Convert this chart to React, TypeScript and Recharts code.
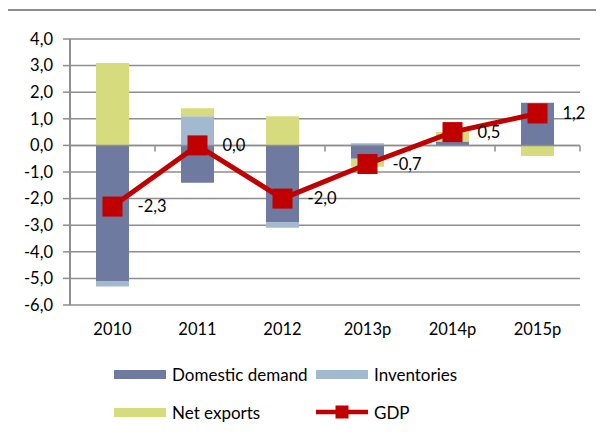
import React from 'react';
import {
  ComposedChart,
  Bar,
  Line,
  XAxis,
  YAxis,
  CartesianGrid,
  ReferenceLine,
  LabelList,
  Legend,
} from 'recharts';

const categories = ['2010', '2011', '2012', '2013p', '2014p', '2015p'];
const domesticDemand = [-5.1, -1.4, -2.9, -0.5, 0.15, 1.6];
const inventories = [-0.2, 1.1, -0.2, 0.08, 0, 0];
const netExports = [3.1, 0.3, 1.1, -0.3, 0.35, -0.4];
const gdp = [-2.3, 0.0, -2.0, -0.7, 0.5, 1.2];
const yTicks = [-6, -5, -4, -3, -2, -1, 0, 1, 2, 3, 4];

const DD_COLOR = '#6f7aa1';
const INV_COLOR = '#a3b9cf';
const NX_COLOR = '#d6db7d';
const GDP_COLOR = '#c00000';
const GRID = '#8e8e8e';
const FONT = 'Lato, "Open Sans", sans-serif';

const data = categories.map((c, i) => ({
  year: c,
  dd: domesticDemand[i],
  inv: inventories[i],
  nx: netExports[i],
  gdp: gdp[i],
}));

const fmt = (v: number) => Number(v).toFixed(1).replace('.', ',');

const SquareDot = (props: any) => {
  const { cx, cy, index } = props;
  if (cx == null || cy == null) return null;
  return <rect key={`sq-${index}`} x={cx - 10} y={cy - 10} width={20} height={20} fill={GDP_COLOR} />;
};

const ZeroLine = (props: any) => {
  const { x1, y1, x2, y2 } = props;
  const n = categories.length;
  const ticks = [];
  for (let i = 1; i <= n; i++) {
    const x = x1 + ((x2 - x1) * i) / n;
    ticks.push(<line key={i} x1={x} x2={x} y1={y1} y2={y1 + 6} stroke={GRID} strokeWidth={1.5} />);
  }
  return (
    <g>
      <line x1={x1} y1={y1} x2={x2} y2={y2} stroke={GRID} strokeWidth={1.5} />
      {ticks}
    </g>
  );
};

const legendItems = [
  { name: 'Domestic demand', color: DD_COLOR, kind: 'rect' },
  { name: 'Inventories', color: INV_COLOR, kind: 'rect' },
  { name: 'Net exports', color: NX_COLOR, kind: 'rect' },
  { name: 'GDP', color: GDP_COLOR, kind: 'line' },
];

const LegendContent = () => (
  <div
    style={{
      display: 'grid',
      gridTemplateColumns: '202px 200px',
      rowGap: 20,
      fontFamily: FONT,
      fontSize: 17,
      color: '#000',
    }}
  >
    {legendItems.map((it) => (
      <div key={it.name} style={{ display: 'flex', alignItems: 'center', height: 18 }}>
        {it.kind === 'rect' ? (
          <div style={{ width: 52, height: 9, background: it.color }} />
        ) : (
          <svg width={52} height={14}>
            <line x1={0} x2={52} y1={7} y2={7} stroke={it.color} strokeWidth={4.5} strokeLinecap="round" />
            <rect x={19.5} y={0.5} width={13} height={13} fill={it.color} />
          </svg>
        )}
        <span style={{ marginLeft: 6, whiteSpace: 'nowrap' }}>{it.name}</span>
      </div>
    ))}
  </div>
);

export default function App() {
  return (
    <div style={{ position: 'relative', margin: -8, width: 604, height: 436, overflow: 'hidden', background: '#fff' }}>
      <div
        style={{
          position: 'absolute',
          left: 6,
          top: 9,
          width: 800,
          height: 600,
          borderTop: '2px solid #8c8c8c',
          borderLeft: '2px solid #8c8c8c',
        }}
      />
      <div style={{ position: 'absolute', left: 0, top: 0 }}>
        <ComposedChart
          width={604}
          height={436}
          data={data}
          stackOffset="sign"
          margin={{ top: 39, right: 24, bottom: 101, left: 0 }}
          style={{ fontFamily: FONT }}
        >
          <CartesianGrid vertical={false} stroke={GRID} strokeWidth={1.5} />
          <XAxis
            dataKey="year"
            axisLine={false}
            tickLine={false}
            tickSize={0}
            tickMargin={18}
            height={30}
            interval={0}
            tick={{ fill: '#000', fontSize: 16.5 }}
          />
          <YAxis
            type="number"
            domain={[-6, 4]}
            ticks={yTicks}
            interval={0}
            width={70}
            tickFormatter={fmt}
            axisLine={{ stroke: GRID, strokeWidth: 2 }}
            tickLine={{ stroke: GRID, strokeWidth: 1.5 }}
            tickSize={7}
            tickMargin={10}
            tick={{ fill: '#000', fontSize: 16.5 }}
          />
          <ReferenceLine y={0} shape={ZeroLine} />
          <Bar dataKey="dd" stackId="s" fill={DD_COLOR} barSize={33} isAnimationActive={false} />
          <Bar dataKey="inv" stackId="s" fill={INV_COLOR} barSize={33} isAnimationActive={false} />
          <Bar dataKey="nx" stackId="s" fill={NX_COLOR} barSize={33} isAnimationActive={false} />
          <Line
            dataKey="gdp"
            stroke={GDP_COLOR}
            strokeWidth={5}
            dot={SquareDot}
            activeDot={false}
            isAnimationActive={false}
          >
            <LabelList
              dataKey="gdp"
              position="right"
              offset={25}
              formatter={(v: any) => fmt(v)}
              fill="#000"
              fontSize={16.5}
            />
          </Line>
          <Legend
            layout="horizontal"
            verticalAlign="middle"
            align="center"
            content={LegendContent}
            wrapperStyle={{ position: 'absolute', left: 114, top: 365, width: 420, height: 60 }}
          />
        </ComposedChart>
      </div>
    </div>
  );
}
